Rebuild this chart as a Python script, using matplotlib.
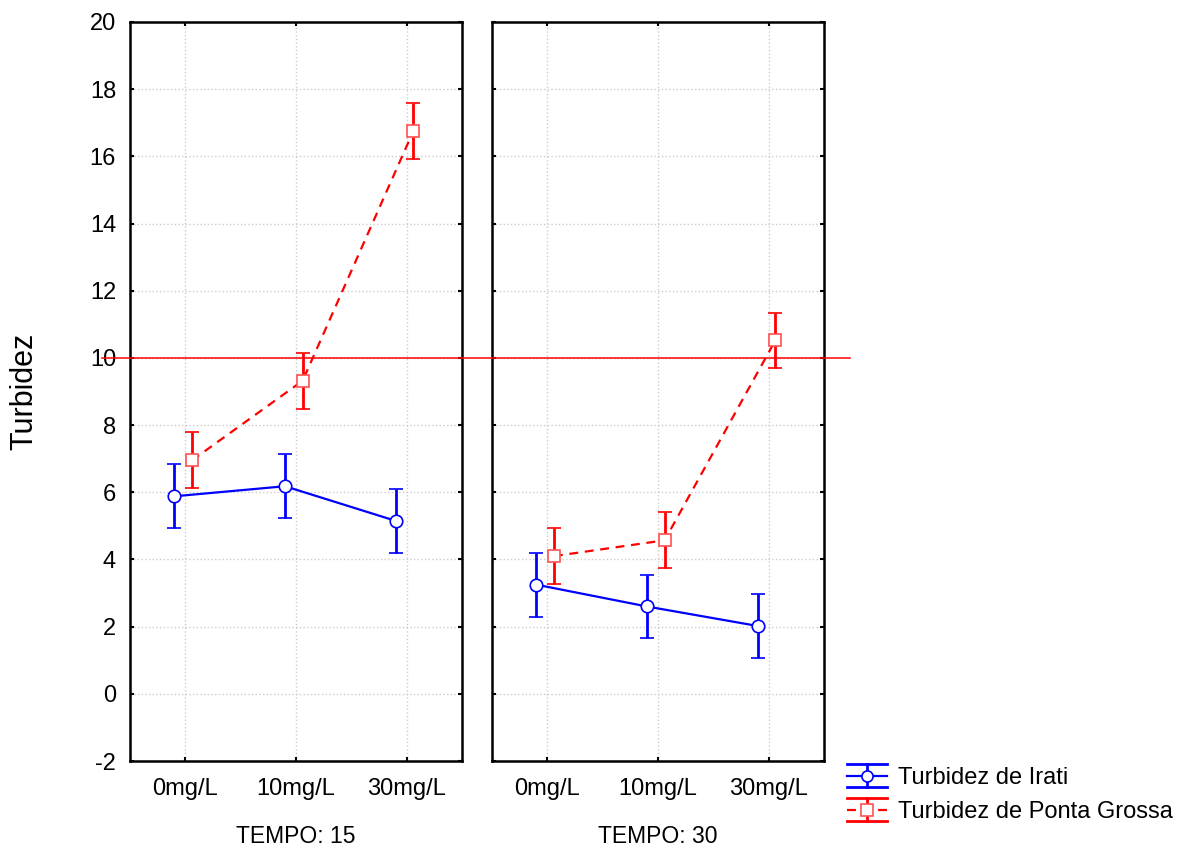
import matplotlib
matplotlib.use('Agg')
import matplotlib.pyplot as plt
from matplotlib.lines import Line2D
from matplotlib.legend_handler import HandlerBase
from matplotlib.transforms import blended_transform_factory
import numpy as np

plt.rcParams['font.family'] = ['Liberation Sans', 'DejaVu Sans']
plt.rcParams['axes.unicode_minus'] = False

# data
doses = ['0mg/L', '10mg/L', '30mg/L']
tempos = ['TEMPO: 15', 'TEMPO: 30']
irati_mean = [[5.88, 6.18, 5.15], [3.25, 2.6, 2.02]]
irati_err = [[0.95, 0.95, 0.95], [0.95, 0.95, 0.95]]
ponta_mean = [[6.95, 9.32, 16.75], [4.1, 4.57, 10.52]]
ponta_err = [[0.83, 0.83, 0.83], [0.83, 0.83, 0.83]]
limit = 10
series_names = ['Turbidez de Irati', 'Turbidez de Ponta Grossa']

blue = '#0000ff'
red = '#ff0000'

fig = plt.figure(figsize=(11.93, 8.52), dpi=100)
W, H = 1193, 852
ax1 = fig.add_axes([130 / W, 91 / H, 332 / W, 739 / H])
ax2 = fig.add_axes([492 / W, 91 / H, 332 / W, 739 / H])

x = np.arange(len(doses))
for i, ax in enumerate([ax1, ax2]):
    ax.errorbar(x - 0.1, irati_mean[i], yerr=irati_err[i], color=blue, lw=1.6,
                elinewidth=2, capsize=5, capthick=2, marker='o', ms=9,
                mfc='white', mec=blue, mew=1.2, zorder=3)
    ax.errorbar(x + 0.06, ponta_mean[i], yerr=ponta_err[i], color=red, lw=1.6,
                ls=(0, (4, 3)), elinewidth=2, capsize=5, capthick=2, marker='s',
                ms=8, mfc='white', mec='#ff5050', mew=1.2, zorder=3)
    ax.set_xlim(-0.5, 2.5)
    ax.set_ylim(-2, 20)
    ax.set_yticks(np.arange(-2, 21, 2))
    ax.set_xticks(x)
    ax.set_xticklabels(doses, fontsize=17)
    ax.grid(True, color='#cccccc', ls=':', lw=1)
    ax.set_axisbelow(True)
    ax.tick_params(direction='in', length=3, width=1.5, top=True, right=True,
                   labelsize=17)
    ax.tick_params(axis='x', pad=12)
    ax.tick_params(axis='y', pad=10)
    for s in ax.spines.values():
        s.set_linewidth(1.8)
    ax.set_xlabel(tempos[i], fontsize=16.5, labelpad=18)
ax2.set_yticklabels([])

# reference line across both panels
tr = blended_transform_factory(fig.transFigure, ax1.transData)
fig.add_artist(Line2D([102 / W, 850 / W], [limit, limit], transform=tr,
                      color=red, lw=1.1, zorder=5))

fig.text(24 / W, (91 + 739 / 2) / H, 'Turbidez', rotation=90, fontsize=22,
         ha='center', va='center')


class ErrHandler(HandlerBase):
    def __init__(self, color, ls, marker, mec):
        super().__init__()
        self.color, self.ls, self.marker, self.mec = color, ls, marker, mec

    def create_artists(self, legend, orig_handle, xdescent, ydescent, width,
                       height, fontsize, trans):
        cy = height / 2 - ydescent
        top, bot = cy + height * 0.68, cy - height * 0.68
        cx = width / 2 - xdescent
        arts = [
            Line2D([-xdescent, width - xdescent], [top, top], color=self.color, lw=2),
            Line2D([-xdescent, width - xdescent], [bot, bot], color=self.color, lw=2),
            Line2D([cx, cx], [bot, top], color=self.color, lw=2),
            Line2D([-xdescent, width - xdescent], [cy, cy], color=self.color,
                   lw=1.6, ls=self.ls),
            Line2D([cx], [cy], marker=self.marker, ms=8, mfc='white',
                   mec=self.mec, mew=1.2, ls='none'),
        ]
        for a in arts:
            a.set_transform(trans)
        return arts


h1 = Line2D([], [], color=blue)
h2 = Line2D([], [], color=red)
fig.legend([h1, h2], series_names, loc='upper left',
           bbox_to_anchor=(847 / W, 1 - 767 / H), frameon=False, fontsize=17,
           borderpad=0, borderaxespad=0, handlelength=1.7, handletextpad=0.45,
           labelspacing=0.5,
           handler_map={h1: ErrHandler(blue, '-', 'o', blue),
                        h2: ErrHandler(red, (0, (4, 3)), 's', '#ff5050')})

fig.savefig('out.png', dpi=100)
